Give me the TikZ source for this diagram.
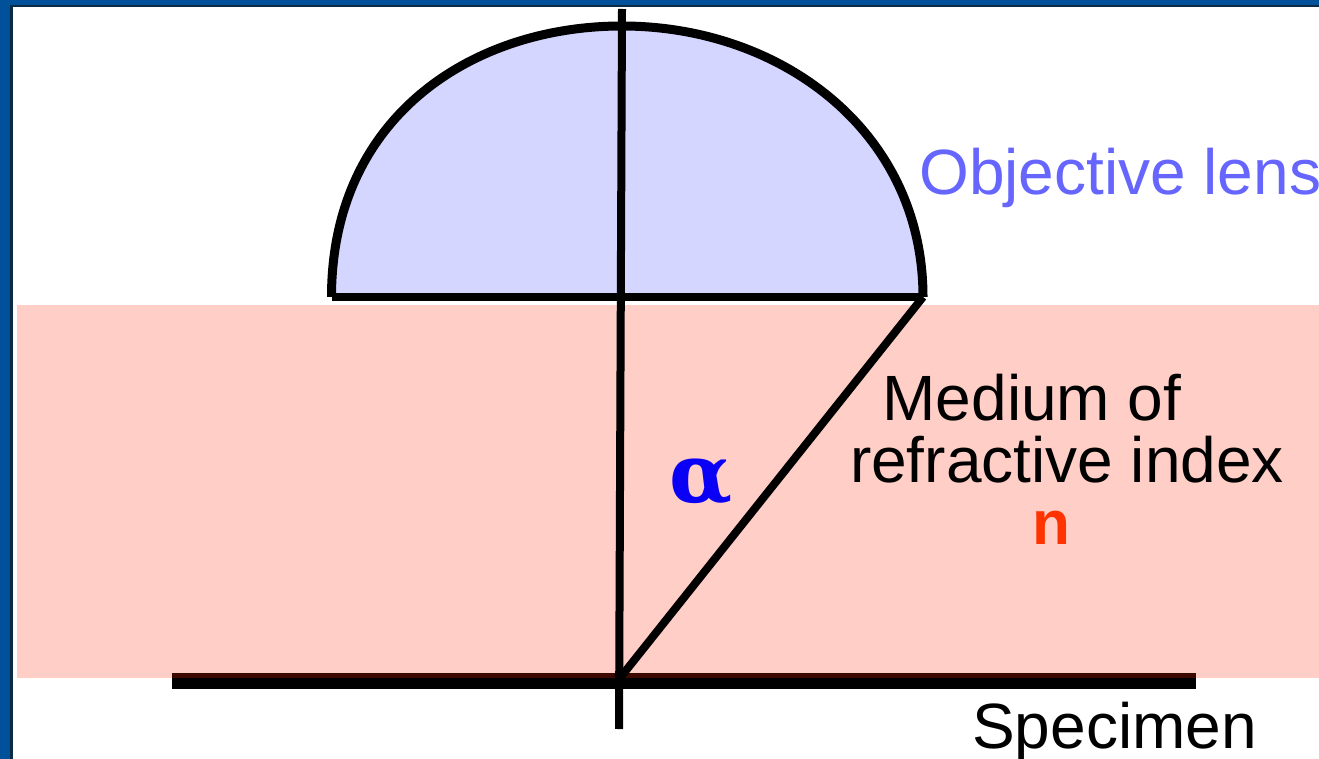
\documentclass[tikz,border=0pt]{standalone}
\usepackage{fontspec}
\setmainfont{Liberation Sans}
\newfontfamily\alphafont{DejaVu Serif}
\definecolor{frameblue}{HTML}{00519A}
\definecolor{framedark}{HTML}{0A2A45}
\definecolor{lensfill}{HTML}{D4D6FF}
\definecolor{lenstext}{HTML}{6666FF}
\definecolor{mediumfill}{HTML}{FFCEC6}
\definecolor{overlap}{HTML}{3C0800}
\definecolor{indexred}{HTML}{FF3300}
\definecolor{alphablue}{HTML}{0A00F5}
\tikzset{
  beam/.style={line width=8pt,black},
  lensline/.style={line width=9pt,black},
  label/.style={inner sep=0pt,font=\fontsize{64}{64}\selectfont},
}
\begin{document}
\begin{tikzpicture}[x=1pt,y=-1pt]
\useasboundingbox (0,0) rectangle (1319,759);
\fill[frameblue] (0,0) rectangle (1319,759);
\fill[framedark] (10,5) rectangle (1319,759);
\fill[white] (12.5,7.5) rectangle (1319,759);
% medium
\fill[mediumfill] (17,305) rectangle (1319,678);
% lens
\coordinate (lensL) at (331.5,297);
\coordinate (lensR) at (923,297);
\coordinate (lensTop) at (622,26);
\coordinate (axisTop) at (622,9);
\coordinate (axisBottom) at (619,729);
\coordinate (focus) at (620,678);
\coordinate (specL) at (172,681);
\coordinate (specR) at (1196,681);
\fill[lensfill] (lensL) .. controls (331.5,117) and (472,26) .. (lensTop) .. controls (782,26) and (923,132) .. (lensR) -- cycle;
\draw[lensline] (lensL) .. controls (331.5,117) and (472,26) .. (lensTop) .. controls (782,26) and (923,132) .. (lensR);
\draw[line width=8pt,black] (lensL) -- (lensR);
% specimen
\draw[line width=16pt,black] (specL) -- (specR);
\fill[overlap] (172,673) rectangle (1196,678);
% rays
\draw[beam] (axisTop) -- (axisBottom);
\draw[beam] (lensR) -- (focus);
% text
\node[label,text=lenstext,anchor=base west] (objective) at (919,195) {Objective lens};
\node[label,anchor=base] (medium) at (1032,420) {Medium of};
\node[label,anchor=base] (refractive) at (1067,482) {refractive index};
\node[label,anchor=base,text=indexred,font=\fontsize{62}{62}\selectfont\bfseries] (n) at (1051,544) {n};
\node[label,anchor=base,text=alphablue,font=\fontsize{82}{82}\selectfont\alphafont\bfseries] (alpha) at (701,502) {α};
\node[label,anchor=base west] (specimen) at (972,748) {Specimen};
\end{tikzpicture}
\end{document}
